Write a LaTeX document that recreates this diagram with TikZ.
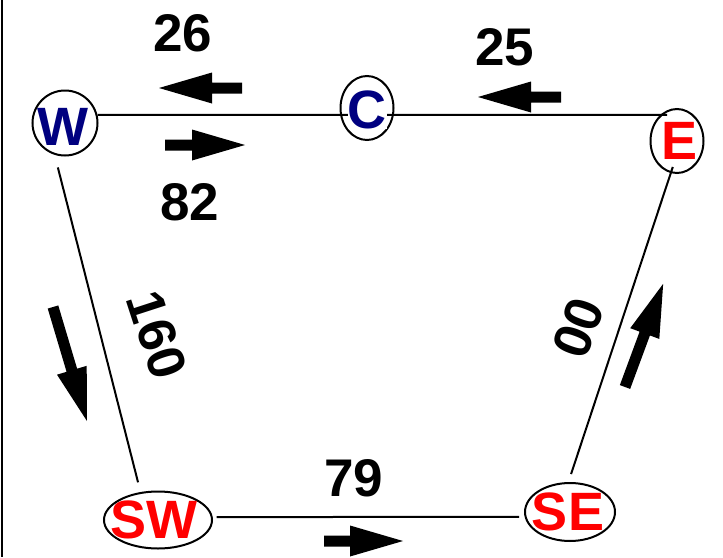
\documentclass[tikz,border=0pt]{standalone}
\usepackage{fontspec}
\setmainfont{Liberation Sans}
\usetikzlibrary{shapes.geometric,backgrounds}
\definecolor{navyc}{RGB}{0,0,128}
\definecolor{redc}{RGB}{255,0,0}
\tikzset{
  pics/barrow/.style={code={
    \fill (0,-5.5) -- (#1-53,-5.5) -- (#1-53,-15.5) -- (#1,0)
          -- (#1-53,15.5) -- (#1-53,5.5) -- (0,5.5) -- cycle;}},
  stn/.style={draw, line width=2pt, ellipse, inner sep=0pt},
  lbl/.style={inner sep=0pt, font=\fontsize{54}{54}\selectfont\bfseries},
  num/.style={inner sep=0pt, font=\fontsize{53}{53}\selectfont\bfseries},
  conn/.style={line width=2pt},
}
\begin{document}
\begin{tikzpicture}[x=1pt,y=-1pt]
\useasboundingbox (0,0) rectangle (723,557);
\draw[line width=2.3pt] (1.8,0) -- (1.8,557);

% stations
\node[stn, circle, minimum size=65,
      label={[lbl,text=navyc,xshift=-2,yshift=-4]center:W}] (W) at (65,123) {};
\node[stn, minimum width=53, minimum height=64,
      label={[lbl,text=navyc,fill=white,yshift=-2]center:C}] (C) at (367,108) {};
\node[stn, minimum width=53, minimum height=64,
      label={[lbl,text=redc,xshift=3]center:E}] (E) at (677,141) {};
\node[stn, minimum width=108, minimum height=57,
      label={[lbl,text=redc,xshift=-4]center:SW}] (SW) at (158,520) {};
\node[stn, minimum width=90, minimum height=58,
      label={[lbl,text=redc,xshift=-2]center:SE}] (SE) at (570,512) {};

% connectors
\begin{scope}[on background layer]
\draw[conn, shorten >=-7pt] (W.14) -- (E.123);
\draw[conn, shorten <=13pt, shorten >=10pt] (W.-108) -- (SW.122);
\draw[conn, shorten <=4pt, shorten >=5.5pt] (SW.3) -- (SE.186);
\draw[conn, shorten <=8.4pt, shorten >=-6.5pt] (SE.93) -- (E.-101);
\end{scope}

% flow values
\node[num] (n26) at (183,33) {26};
\node[num] (n82) at (190,202) {82};
\node[num] (n25) at (505,47) {25};
\node[num] (n79) at (354,478) {79};
\node[num, rotate=-72] (n160) at (157,335) {160};
\node[num, rotate=70] (n00) at (578,328) {00};

% direction arrows
\pic[rotate=180] at (242,88) {barrow=83};
\pic at (165,145) {barrow=80};
\pic[rotate=180] at (561,97) {barrow=83};
\pic at (324,541) {barrow=79};
\pic[rotate=-73.4] at (53,307) {barrow=119};
\pic[rotate=69.7] at (625,387) {barrow=110};
\end{tikzpicture}
\end{document}
